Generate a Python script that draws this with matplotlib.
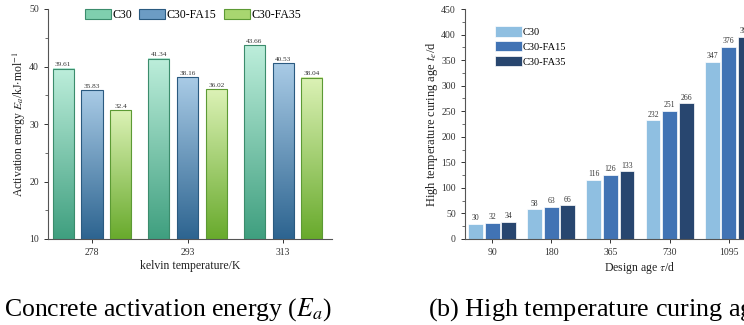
import matplotlib
matplotlib.use("Agg")
import matplotlib.pyplot as plt
import numpy as np
from matplotlib.colors import LinearSegmentedColormap
from matplotlib.patches import Patch
from matplotlib.ticker import MultipleLocator

plt.rcParams["font.family"] = ["Liberation Serif", "DejaVu Serif"]
plt.rcParams["mathtext.fontset"] = "stix"

# (a) activation energy
temps = ["278", "293", "313"]
series_a = ["C30", "C30-FA15", "C30-FA35"]
ea_c30 = [39.61, 41.34, 43.66]
ea_fa15 = [35.83, 38.16, 40.53]
ea_fa35 = [32.4, 36.02, 38.04]
ea_text = [["39.61", "41.34", "43.66"], ["35.83", "38.16", "40.53"], ["32.4", "36.02", "38.04"]]

# (b) high temperature curing age
ages = ["90", "180", "365", "730", "1095"]
series_b = ["C30", "C30-FA15", "C30-FA35"]
te_c30 = [30, 58, 116, 232, 347]
te_fa15 = [32, 63, 126, 251, 376]
te_fa35 = [34, 66, 133, 266, 396]

fig = plt.figure(figsize=(7.44, 3.25), dpi=100)

# ---------- left chart ----------
ax1 = fig.add_axes([48 / 744, 1 - 239 / 325, (332 - 48) / 744, 230 / 325])
grad = [("#3f9f7f", "#bdeedb", "#3b8c6c"),
        ("#2d6490", "#a9cbe6", "#2a5a80"),
        ("#68aa2c", "#dcf2b6", "#5c9a34")]
pitch, width = 0.30, 0.22
x = np.arange(len(temps))
ybot = 10
for i, vals in enumerate([ea_c30, ea_fa15, ea_fa35]):
    lo, hi, ec = grad[i]
    cmap = LinearSegmentedColormap.from_list(f"g{i}", [lo, hi])
    xs = x + (i - 1) * pitch
    for xc, v in zip(xs, vals):
        img = np.linspace(0, 1, 256).reshape(-1, 1)
        ax1.imshow(img, cmap=cmap, origin="lower", aspect="auto",
                   extent=[xc - width / 2, xc + width / 2, ybot, v], zorder=2)
    rects = ax1.bar(xs, vals, width, facecolor="none", edgecolor=ec, linewidth=0.8, zorder=3)
    ax1.bar_label(rects, labels=ea_text[i], padding=1, fontsize=5.2, color="#333333")

ax1.set_xlim(-0.46, 2.51)
ax1.set_ylim(10, 50)
ax1.set_xticks(x, temps)
ax1.yaxis.set_major_locator(MultipleLocator(10))
ax1.yaxis.set_minor_locator(MultipleLocator(5))
ax1.spines[["top", "right"]].set_visible(False)
for s in ["left", "bottom"]:
    ax1.spines[s].set_color("#555555")
ax1.tick_params(labelsize=7, colors="#333333", length=3, width=0.7)
ax1.tick_params(which="minor", length=2, width=0.6, colors="#555555")
ax1.set_xlabel("kelvin temperature/K", fontsize=8.5, color="#222222", labelpad=2)
ax1.set_ylabel(r"Activation energy $E_a$/kJ$\cdot$mol$^{-1}$", fontsize=8.5, color="#222222", labelpad=1)
handles = [Patch(facecolor=c, edgecolor=grad[i][2], linewidth=0.8)
           for i, c in enumerate(["#7fcfae", "#6c9cc4", "#a8d670"])]
ax1.legend(handles, series_a, loc="upper left", bbox_to_anchor=(0.10, 1.035), ncol=3,
           frameon=False, fontsize=8.5, handlelength=2.2, handleheight=0.85,
           handletextpad=0.15, columnspacing=0.6, borderaxespad=0.3)

# ---------- right chart ----------
ax2 = fig.add_axes([465 / 744, 1 - 239 / 325, 350 / 744, 230 / 325])
colors_b = ["#8fbfe1", "#4173b4", "#28466f"]
pitch_b, width_b = 0.28, 0.25
xb = np.arange(len(ages))
for i, vals in enumerate([te_c30, te_fa15, te_fa35]):
    rects = ax2.bar(xb + (i - 1) * pitch_b, vals, width_b, color=colors_b[i],
                    edgecolor="white", linewidth=0.5, label=series_b[i])
    ax2.bar_label(rects, padding=1, fontsize=5.5, color="#333333")
ax2.set_xlim(-0.46, 5.46)
ax2.set_ylim(0, 450)
ax2.set_xticks(xb, ages)
ax2.yaxis.set_major_locator(MultipleLocator(50))
ax2.yaxis.set_minor_locator(MultipleLocator(25))
ax2.spines[["top", "right"]].set_visible(False)
for s in ["left", "bottom"]:
    ax2.spines[s].set_color("#555555")
ax2.tick_params(labelsize=7, colors="#333333", length=3, width=0.7)
ax2.tick_params(which="minor", length=2, width=0.6, colors="#555555")
ax2.set_xlabel(r"Design age $\tau$/d", fontsize=8.5, color="#222222", labelpad=2)
ax2.set_ylabel(r"High temperature curing age $t_e$/d", fontsize=9, color="#222222", labelpad=1)
ax2.legend(loc="upper left", bbox_to_anchor=(0.085, 0.925), frameon=False, fontsize=7.5,
           handlelength=2.6, handleheight=1.15, handletextpad=0.1, labelspacing=0.4,
           borderaxespad=0.0, borderpad=0.0)

# captions
fig.text(4 / 744, 1 - 316 / 325, r"Concrete activation energy ($E_a$)", ha="left",
         va="baseline", fontsize=18.5)
fig.text(428 / 744, 1 - 316 / 325, r"(b) High temperature curing age ($t_e$)", ha="left",
         va="baseline", fontsize=18.8)

fig.savefig("out.png", dpi=100)
